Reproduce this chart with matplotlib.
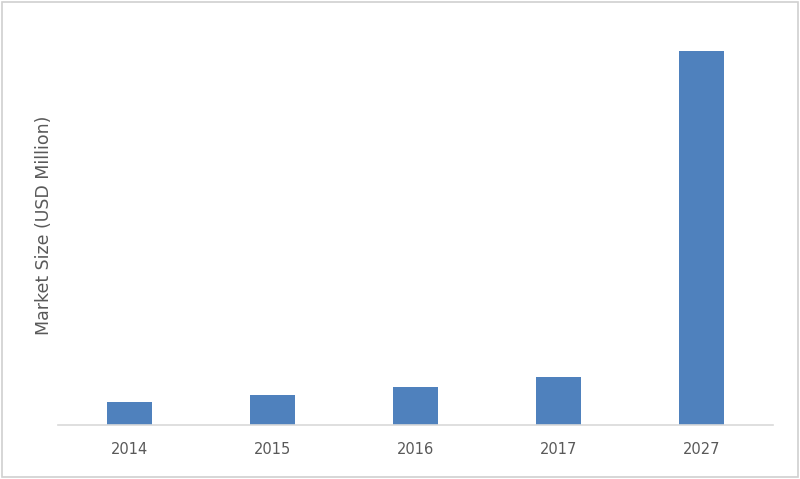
import matplotlib.pyplot as plt
from matplotlib.patches import Rectangle

years = ["2014", "2015", "2016", "2017", "2027"]
market_size = [23, 30, 38, 48, 374]

fig = plt.figure(figsize=(8, 4.79), dpi=100)
ax = fig.add_axes([58/800, 1-425/479, 715/800, 400/479])

ax.bar(range(len(years)), market_size, width=0.315, color="#4F81BD")
ax.set_xlim(-0.5, 4.5)
ax.set_ylim(0, 400)
ax.set_xticks(range(len(years)))
ax.set_xticklabels(years, fontsize=10.5, color="#595959")
ax.tick_params(axis="x", length=0, pad=12)
ax.set_yticks([])
for s in ["top", "right", "left"]:
    ax.spines[s].set_visible(False)
ax.spines["bottom"].set_color("#D9D9D9")
ax.spines["bottom"].set_linewidth(1.2)
ax.set_ylabel("Market Size (USD Million)", fontsize=12.5, color="#595959")
ax.yaxis.set_label_coords(-5/715, 0.5)

fig.patches.append(Rectangle((0.003, 0.004), 0.994, 0.992, transform=fig.transFigure,
                             fill=False, edgecolor="#D0D0D0", linewidth=1.2))
fig.savefig("out.png", dpi=100)
